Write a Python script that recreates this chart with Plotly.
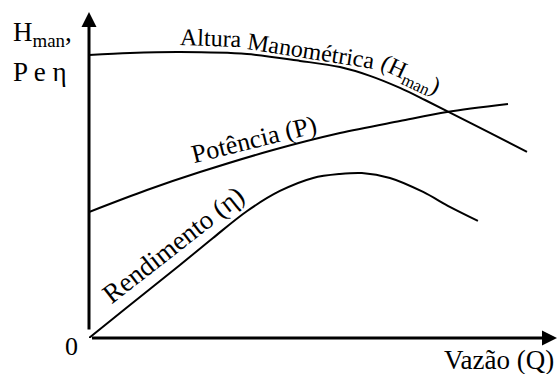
import plotly.graph_objects as go

# ---- data (schematic pump characteristic curves, arbitrary units 0-100) ----
q_h = [0, 8.76, 19.44, 33.76, 45.09, 53.63, 60.04, 66.45, 71.79, 76.5, 85.68, 93.59]
h_man = [86.8, 87.4, 87.7, 87.1, 85.0, 83.1, 80.4, 76.7, 73.0, 69.6, 62.9, 57.1]

q_p = [0, 12.39, 23.72, 39.32, 53.63, 66.45, 76.5, 89.53]
power = [38.65, 45.4, 50.9, 57.67, 62.88, 66.56, 69.33, 71.78]

q_eta = [0, 7.69, 19.44, 26.5, 33.8, 40.8, 47.9, 53.6, 58.3, 64.3, 71.4, 77.1, 83.1]
eta = [0, 8.9, 22.4, 30.7, 38.96, 45.1, 49.1, 50.3, 50.6, 49.1, 44.8, 40.2, 35.9]

W, H = 557, 374
ML, MR, MT, MB = 89, 0, 12, 36
PW, PH = W - ML - MR, H - MT - MB
FONT = "'Liberation Serif', 'Times New Roman', Times, 'DejaVu Serif', serif"

fig = go.Figure()
for qx, vy in [(q_h, h_man), (q_p, power), (q_eta, eta)]:
    fig.add_trace(go.Scatter(x=qx, y=vy, mode="lines",
                             line=dict(color="black", width=2, shape="spline", smoothing=0.9),
                             hoverinfo="skip", showlegend=False))

ann = []
# axes arrows
ann.append(dict(x=100, y=0, ax=0, ay=0, xref="x", yref="y", axref="x", ayref="y",
                showarrow=True, arrowhead=2, arrowsize=1, arrowwidth=3, arrowcolor="black", text=" "))
ann.append(dict(x=0, y=100, ax=0, ay=0, xref="x", yref="y", axref="x", ayref="y",
                showarrow=True, arrowhead=2, arrowsize=1, arrowwidth=3, arrowcolor="black", text=" "))

def label(text, xp, yp, size, angle=0, xanchor="center"):
    ann.append(dict(x=(xp - ML) / PW, y=(H - MB - yp) / PH, xref="paper", yref="paper",
                    text=text, showarrow=False, textangle=angle,
                    xanchor=xanchor, yanchor="middle",
                    font=dict(family=FONT, size=size, color="black")))

label("H<sub>man</sub>,", 11, 34, 27, xanchor="left")
label("P e η", 11, 72, 27, xanchor="left")
label("0", 71, 346, 26)
label("Vazão (Q)", 556, 360, 27, xanchor="right")
label("Altura", 211, 38, 24, 2)
label("Manométrica", 311, 51, 24, 9)
label("(H<sub>man</sub>)", 410, 76, 24, 25)
label("Potência (P)", 254, 139, 26, -14)
label("Rendimento (η)", 173, 245, 27, -38)

fig.update_layout(
    width=W, height=H, autosize=False,
    margin=dict(l=ML, r=MR, t=MT, b=MB),
    paper_bgcolor="white", plot_bgcolor="white",
    font=dict(family=FONT),
    xaxis=dict(range=[0, 100], visible=False, fixedrange=True),
    yaxis=dict(range=[0, 100], visible=False, fixedrange=True),
    annotations=ann,
)
fig.write_html("out.html", config={"displayModeBar": False},
               post_script="document.body.style.margin='0';document.body.style.overflow='hidden';")
